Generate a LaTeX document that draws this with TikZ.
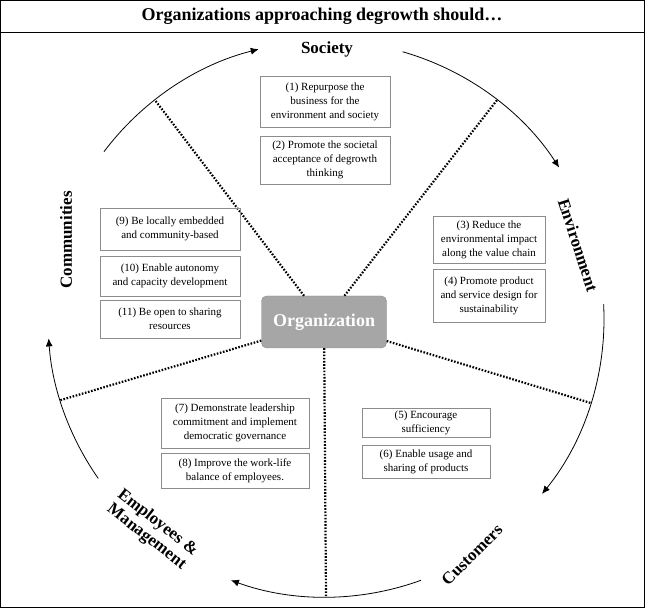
\documentclass[tikz,border=0pt]{standalone}
\usepackage{fontspec}
\setmainfont{Liberation Serif}
\usetikzlibrary{arrows.meta,calc}

\begin{document}
\begin{tikzpicture}[x=1pt,y=1pt,
		actionnode/.style={
		% The shape:
		rectangle,
		% The size:
		minimum height=30pt,
		% The border:
		draw=black!45,
		% Font
		font=\fontsize{11}{13.8}\selectfont,
		align=center,
		inner sep=2pt
		},
		groupnode/.style={
		font=\fontsize{17}{18}\selectfont\bfseries,
		align=center
		},
		cycle/.style={-{Latex[length=8pt,width=7pt]}, thick},
		divider/.style={line width=2.2pt, dash pattern=on 1.6pt off 1.6pt}
	]
	\useasboundingbox (0,0) rectangle (645,608);
	\draw[thick] (0.5,0.5) rectangle (644.5,607.5);
	\draw[thick] (0.5,576) -- (644.5,576);
	\node (TITLE)[font=\fontsize{18}{19}\selectfont\bfseries] at (322,592) {Organizations approaching degrowth should\dots};

	\coordinate (C) at (326,289);
	\node (ORG)[rectangle, rounded corners=5pt, fill=black!35, draw=black!45,
		minimum width=125pt, minimum height=52pt, text=white,
		font=\fontsize{18}{19}\selectfont\bfseries] at (324,286) {Organization};

	% dotted dividers
	\foreach \a/\n in {128/D1, 52/D2, -17.6/D3, -90/D4, 197/D5}
		\coordinate (\n) at ($(C)+(\a:278)$);
	\foreach \n in {D1,D2,D3,D4,D5}
		\draw[divider] (ORG) -- (\n);

	% cycle arcs
	\draw[cycle] ($(C)+(143:278)$) arc (143:104:278);
	\draw[cycle] ($(C)+(74:278)$) arc (74:33:278);
	\draw[cycle] ($(C)+(3:278)$) arc (3:-39:278);
	\draw[cycle] ($(C)+(-70:278)$) arc (-70:-110:278);
	\draw[cycle] ($(C)+(-145:278)$) arc (-145:-176:278);

	% group labels
	\node (SOC)[groupnode] at (327,559) {Society};
	\node (ENV)[groupnode, rotate=-72] at (578,363) {Environment};
	\node (CUS)[groupnode, rotate=45] at (472,53) {Customers};
	\node (EMP)[groupnode, rotate=-38] at (152,78) {Employees \&\\Management};
	\node (COM)[groupnode, rotate=90] at (66,368) {Communities};

	% action boxes
	\node (A1)[actionnode, minimum width=130pt, minimum height=51pt] at (325,506) {(1) Repurpose the\\business for the\\environment and society};
	\node (A2)[actionnode, minimum width=130pt, minimum height=48pt] at (325,448) {(2) Promote the societal\\acceptance of degrowth\\thinking};
	\node (A3)[actionnode, minimum width=112pt, minimum height=47pt] at (489,368) {(3) Reduce the\\environmental impact\\along the value chain};
	\node (A4)[actionnode, minimum width=112pt, minimum height=53pt] at (489,312) {(4) Promote product\\and service design for\\sustainability};
	\node (A5)[actionnode, minimum width=128pt, minimum height=29pt] at (426,185) {(5) Encourage\\sufficiency};
	\node (A6)[actionnode, minimum width=128pt, minimum height=33pt] at (426,146) {(6) Enable usage and\\sharing of products};
	\node (A7)[actionnode, minimum width=148pt, minimum height=50pt] at (235,185) {(7) Demonstrate leadership\\commitment and implement\\democratic governance};
	\node (A8)[actionnode, minimum width=148pt, minimum height=35pt] at (235,137) {(8) Improve the work-life\\balance of employees.};
	\node (A9)[actionnode, minimum width=140pt, minimum height=42pt] at (170,379) {(9) Be locally embedded\\and community-based};
	\node (A10)[actionnode, minimum width=140pt, minimum height=40pt] at (170,332) {(10) Enable autonomy\\and capacity development};
	\node (A11)[actionnode, minimum width=140pt, minimum height=38pt] at (170,289) {(11) Be open to sharing\\resources};
\end{tikzpicture}
\end{document}
